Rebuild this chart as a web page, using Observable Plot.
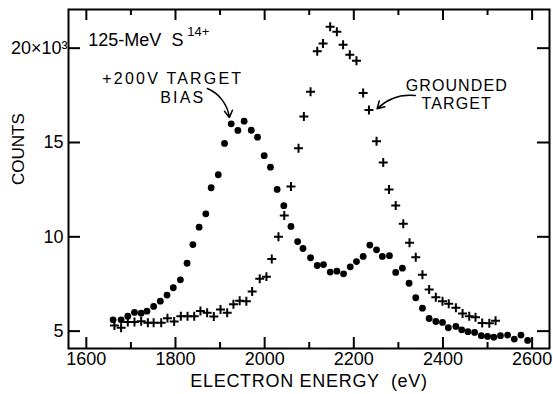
<!DOCTYPE html>
<html><head><meta charset="utf-8">
<script src="https://cdn.jsdelivr.net/npm/d3@7"></script>
<script src="https://cdn.jsdelivr.net/npm/@observablehq/plot@0.6"></script>
<style>
html,body{margin:0;padding:0;background:#fff;}
</style></head><body><div id="chart"></div>
<script>
// +200 V target bias (filled dots)
const biasEnergy = [1660,1678,1693,1708,1723,1736,1751,1766,1781,1795,1811,1826,1839,1853,1868,1880,1896,1910,1925,1940,1954,1970,1984,1999,2013,2028,2043,2059,2074,2086,2103,2118,2132,2147,2162,2177,2192,2206,2221,2236,2251,2264,2280,2294,2309,2324,2339,2354,2369,2384,2399,2412,2429,2442,2456,2471,2486,2500,2514,2529,2545,2560,2575,2590];
const biasCounts = [5.60,5.60,5.79,5.99,5.95,6.06,6.31,6.59,6.91,7.30,7.72,8.60,9.59,10.51,11.22,12.60,13.29,14.95,15.99,15.64,16.13,15.65,15.28,14.30,13.69,12.51,11.65,10.55,9.75,9.38,8.89,8.48,8.53,8.13,8.18,8.04,8.41,8.69,8.96,9.56,9.31,8.96,9.00,8.11,8.34,7.54,6.77,6.22,5.67,5.51,5.46,5.18,5.25,5.07,4.97,4.93,4.76,4.72,4.68,4.76,4.79,4.58,4.79,4.51];
// grounded target (plus signs)
const groundEnergy = [1663,1678,1693,1708,1723,1738,1751,1768,1782,1797,1812,1827,1842,1856,1871,1886,1901,1916,1930,1944,1959,1972,1989,2004,2016,2031,2044,2059,2076,2088,2103,2118,2131,2147,2162,2176,2191,2206,2221,2234,2251,2266,2279,2294,2311,2325,2339,2354,2369,2384,2399,2413,2429,2444,2459,2473,2488,2504,2518];
const groundCounts = [5.30,5.18,5.48,5.48,5.53,5.45,5.45,5.45,5.69,5.51,5.79,5.79,5.79,6.07,5.98,5.78,6.15,5.98,6.43,6.61,6.58,7.10,7.78,7.89,8.83,10.00,11.13,12.67,14.70,16.38,17.69,19.84,20.25,21.13,20.87,20.18,19.65,19.33,17.62,16.72,15.07,13.94,12.51,11.66,10.69,9.68,8.92,7.99,7.21,6.80,6.59,6.45,6.24,5.94,5.79,5.74,5.43,5.42,5.55];
const xTicksMajor = [1600,1800,2000,2200,2400,2600];
const xTicksMinor = [1700,1900,2100,2300,2500];
const yTicks = [5,10,15];
const yTopTick = [20];
const yTicksAll = [5,10,15,20];

const W = 553, H = 394, mL = 68, mR = 4, mT = 9, mB = 46;
const fw = W - mL - mR, fh = H - mT - mB;
const bias = biasEnergy.map((e, i) => ({energy: e, counts: biasCounts[i]}));
const ground = groundEnergy.map((e, i) => ({energy: e, counts: groundCounts[i]}));
const font = "'Liberation Sans', Arial, sans-serif";
const one = [0];
const nb = "\u00a0";

const chart = Plot.plot({
  width: W, height: H,
  marginLeft: mL, marginRight: mR, marginTop: mT, marginBottom: mB,
  style: {fontFamily: font, fontSize: "18px", color: "black", background: "white"},
  x: {domain: [1560, 2639]},
  y: {domain: [4.08, 22.05]},
  marks: [
    Plot.frame({strokeWidth: 2}),
    Plot.tickX(xTicksMajor, {x: d => d, insetTop: fh - 11, strokeWidth: 2}),
    Plot.tickX(xTicksMajor, {x: d => d, insetBottom: fh - 11, strokeWidth: 2}),
    Plot.tickX(xTicksMinor, {x: d => d, insetTop: fh - 6, strokeWidth: 2}),
    Plot.tickX(xTicksMinor, {x: d => d, insetBottom: fh - 6, strokeWidth: 2}),
    Plot.tickY(yTicksAll, {y: d => d, insetRight: fw - 12, strokeWidth: 2}),
    Plot.tickY(yTicksAll, {y: d => d, insetLeft: fw - 12, strokeWidth: 2}),
    Plot.axisX(xTicksMajor, {tickSize: 0, tickPadding: 4, label: null, tickFormat: d => String(d)}),
    Plot.axisY(yTicks, {tickSize: 0, tickPadding: 5, label: null, tickFormat: d => String(d)}),
    Plot.text(yTopTick, {y: d => d, frameAnchor: "left", dx: -1, textAnchor: "end", text: () => "20×10³"}),
    Plot.dot(bias, {x: "energy", y: "counts", r: 3.4, fill: "black"}),
    Plot.dot(ground, {x: "energy", y: "counts", symbol: "plus", r: 3.0, stroke: "black", strokeWidth: 2}),
    // titles
    Plot.text(["ELECTRON ENERGY  (eV)"], {frameAnchor: "bottom", dy: 38, text: d => d, fontSize: 18}),
    Plot.text(["COUNTS"], {frameAnchor: "left", dx: -50, dy: 6, rotate: -90, text: d => d, fontSize: 17}),
    // annotations
    Plot.text(["125-MeV  S"], {x: 1604.5, y: 20.41, textAnchor: "start", text: d => d, fontSize: 18}),
    Plot.text(["14+"], {x: 1826.6, y: 20.86, textAnchor: "start", text: d => d, fontSize: 13}),
    Plot.text(["+200V TARGET\n" + nb + nb + nb + "BIAS"], {x: 1794, y: 17.92, text: d => d, fontSize: 16, lineHeight: 1.17}),
    Plot.text(["GROUNDED\nTARGET"], {x: 2431, y: 17.57, text: d => d, fontSize: 16, lineHeight: 1.17}),
    Plot.arrow(one, {x1: 1871.5, y1: 17.86, x2: 1920.8, y2: 16.32, bend: 30, headLength: 8, strokeWidth: 1.5, stroke: "black"}),
    Plot.arrow(one, {x1: 2338.2, y1: 17.49, x2: 2252.2, y2: 16.79, bend: -25, headLength: 8, strokeWidth: 1.5, stroke: "black"})
  ]
});
const sp = {"ELECTRON ENERGY  (eV)": "0.7px"};
d3.select(chart).selectAll("text").each(function() {
  const t = this.textContent;
  if (sp[t]) d3.select(this).attr("letter-spacing", sp[t]);
  if (t.startsWith("+200V")) d3.select(this).attr("letter-spacing", "2.2px");
  if (t.startsWith("GROUNDED")) d3.select(this).attr("letter-spacing", "1.1px");
});
document.getElementById("chart").appendChild(chart);
</script></body></html>
